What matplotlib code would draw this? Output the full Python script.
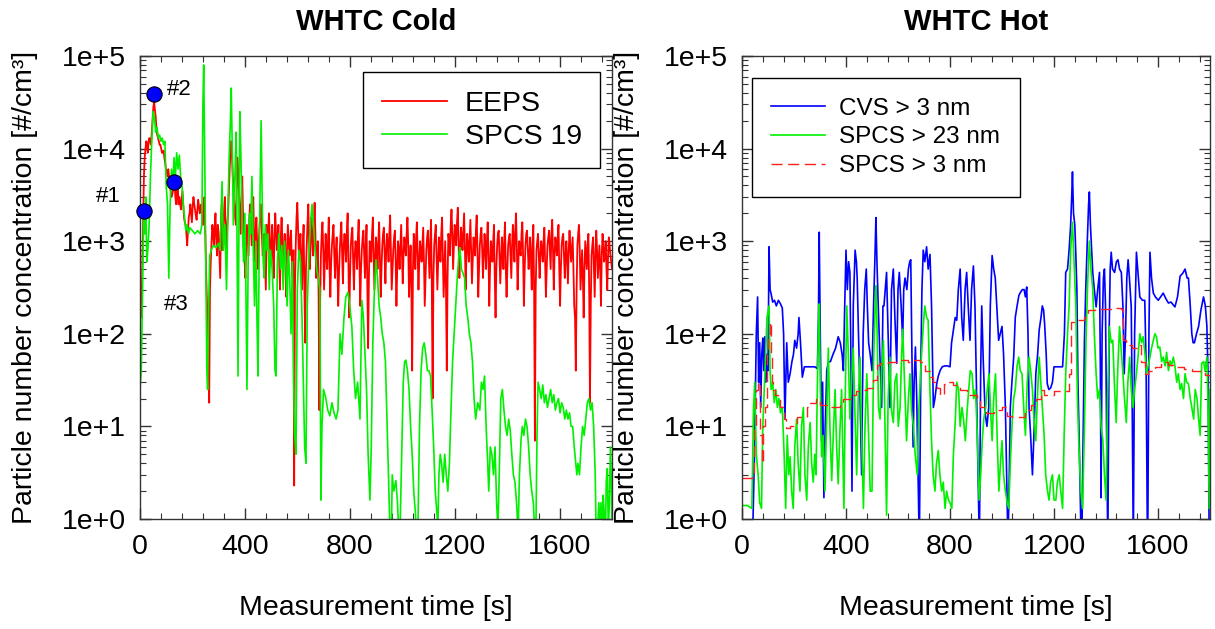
import matplotlib
matplotlib.use('Agg')
import matplotlib.pyplot as plt
import matplotlib.ticker as mticker
import numpy as np

plt.rcParams['font.family'] = ['Liberation Sans', 'DejaVu Sans']

# ---- WHTC Cold: EEPS, one value every 6 s from 0 to 1800 s ----
eeps_cold = [
    400, 150, 1500, 8000, 12000, 9000, 13000, 11000, 20000, 32000,
    22000, 14000, 12000, 11000, 9000, 9500, 7000, 5500, 6000, 4500,
    3000, 3500, 4200, 2500, 4000, 3000, 2200, 3500, 1800, 1500,
    900, 1800, 2500, 1600, 3000, 2200, 1700, 2800, 2000, 2500,
    1500, 3000, 500, 120, 18, 600, 1500, 900, 2000, 700,
    1200, 400, 2500, 1500, 3000, 800, 2000, 6000, 12000, 5000,
    2500, 1500, 8000, 3000, 1200, 5000, 1000, 400, 1500, 700,
    2500, 900, 3000, 600, 1800, 500, 1400, 2500, 700, 1200,
    300, 900, 2000, 600, 1500, 400, 2000, 800, 1500, 300,
    1800, 600, 1200, 250, 1500, 700, 1300, 400, 2.3, 900,
    2600, 700, 1200, 300, 1500, 80, 900, 2500, 500, 1800,
    700, 2600, 400, 1000, 15, 700, 1600, 300, 1200, 500,
    1800, 250, 900, 1500, 400, 1100, 200, 800, 1600, 350,
    1200, 600, 2000, 150, 900, 1400, 300, 1000, 500, 1700,
    200, 800, 1300, 400, 1500, 70, 1000, 600, 1800, 300,
    1100, 500, 1600, 250, 900, 1400, 350, 1200, 600, 1900,
    300, 800, 1300, 200, 1000, 500, 1500, 350, 1100, 700,
    1800, 250, 900, 40, 1200, 500, 1600, 300, 1000, 600,
    1400, 200, 800, 1300, 400, 1700, 20, 900, 1500, 300,
    1100, 600, 1800, 250, 1000, 40, 1200, 700, 2200, 500,
    1500, 900, 2300, 400, 1400, 800, 2000, 300, 1200, 600,
    1700, 350, 1100, 700, 1900, 250, 900, 1400, 400, 1200,
    500, 1600, 200, 1000, 600, 1500, 150, 900, 1300, 350,
    1100, 500, 1600, 250, 900, 1200, 400, 1500, 600, 2000,
    300, 1000, 700, 1600, 200, 900, 1300, 500, 1100, 300,
    1500, 7, 800, 1200, 400, 1000, 600, 1400, 250, 900,
    1300, 500, 1700, 300, 1100, 700, 1500, 200, 900, 1200,
    400, 1000, 350, 1300, 600, 1100, 200, 40, 900, 1500,
    300, 800, 150, 1000, 500, 1200, 18, 700, 1100, 250,
    1300, 400, 900, 200, 1200, 600, 1000, 300, 1100, 700,
    500,
]

# EEPS values in between, at 3 s, 9 s, ... 1797 s
eeps_cold_mid = [
    250, 600, 5000, 10000, 11000, 12000, 12000, 15000, 28000, 26000,
    16000, 13000, 11000, 10000, 9000, 8000, 6000, 5000, 5000, 3500,
    3200, 4000, 3000, 3500, 2500, 2600, 2800, 2500, 1600, 1200,
    1300, 2000, 2000, 2400, 2500, 1900, 2200, 2400, 2200, 2000,
    2000, 1200, 250, 40, 300, 1000, 1200, 1500, 1000, 1500,
    700, 1800, 800, 2200, 1200, 1500, 3500, 9000, 8000, 3500,
    1800, 4000, 5000, 2000, 3000, 2000, 600, 900, 1000, 1800,
    1500, 1800, 1200, 1200, 900, 1000, 2000, 1200, 900, 600,
    1500, 1200, 1000, 900, 700, 1200, 1200, 900, 600, 1100,
    1000, 800, 500, 900, 1000, 1000, 600, 800, 300, 1800,
    1400, 900, 600, 900, 300, 500, 1600, 1000, 1200, 1000,
    1500, 1200, 600, 300, 200, 1200, 800, 600, 700, 1000,
    500, 600, 1200, 700, 800, 500, 450, 1200, 700, 900,
    900, 1300, 500, 400, 1200, 600, 700, 800, 1100, 600,
    500, 1100, 700, 900, 300, 400, 800, 1200, 700, 600,
    800, 1000, 600, 500, 1200, 700, 800, 900, 1200, 800,
    500, 1100, 600, 500, 800, 900, 700, 700, 900, 1200,
    900, 500, 300, 500, 800, 1100, 700, 600, 800, 900,
    600, 400, 1100, 700, 1000, 300, 400, 1200, 700, 600,
    900, 1200, 700, 500, 300, 400, 1000, 1500, 1200, 900,
    1200, 1600, 1000, 800, 1100, 1300, 900, 700, 900, 1000,
    800, 600, 900, 1300, 800, 500, 1200, 800, 700, 800,
    1000, 700, 500, 800, 1000, 400, 500, 1200, 700, 600,
    800, 1000, 500, 500, 1100, 700, 900, 1000, 1300, 900,
    600, 800, 1200, 700, 500, 1200, 800, 700, 600, 900,
    300, 300, 1000, 700, 700, 800, 1000, 600, 500, 1100,
    800, 1200, 800, 700, 900, 1100, 500, 500, 1100, 700,
    700, 600, 800, 900, 800, 500, 150, 300, 1200, 800,
    500, 400, 500, 700, 900, 300, 200, 900, 500, 700,
    800, 600, 500, 700, 900, 700, 500, 700, 900, 600,
]

# ---- WHTC Cold: SPCS 19, (time s, #/cm3) ----
spcs19_cold = [
    (0, 25), (5, 40), (10, 300), (14, 2000), (18, 1200), (22, 3000), (26, 600),
    (30, 800), (35, 1500), (40, 5000), (45, 12000), (50, 25000), (55, 22000),
    (60, 15000), (65, 17000), (70, 13000), (75, 14000), (80, 12000), (85, 13000),
    (90, 11000), (95, 12000), (100, 4000), (105, 2500), (110, 400), (115, 2500),
    (120, 6000), (125, 4000), (130, 8000), (135, 5000), (140, 9000), (145, 6000),
    (150, 8500), (155, 5000), (160, 4000), (165, 2500), (170, 1800), (175, 1300),
    (180, 1500), (185, 1200), (190, 1400), (200, 1300), (210, 1200), (220, 1300),
    (230, 1200), (236, 1500), (240, 30000), (243, 80000), (247, 8000), (251, 600),
    (255, 40), (258, 25), (262, 200), (266, 700), (272, 800), (280, 900),
    (290, 850), (300, 950), (306, 800), (313, 4400), (318, 800), (324, 1500),
    (330, 300), (336, 2500), (340, 8000), (345, 20000), (348, 45000), (352, 10000),
    (356, 1500), (362, 5000), (367, 15000), (371, 400), (374, 35), (378, 3000),
    (381, 25000), (385, 8000), (390, 1500), (395, 600), (400, 2000), (404, 300),
    (408, 25), (413, 800), (418, 2000), (422, 1200), (427, 5000), (432, 800),
    (437, 200), (442, 1000), (446, 150), (450, 35), (455, 900), (459, 5000),
    (462, 20000), (466, 3000), (470, 600), (474, 400), (478, 1500), (483, 800),
    (488, 1200), (493, 300), (498, 800), (504, 500), (510, 200), (515, 40),
    (519, 35), (524, 600), (530, 1200), (536, 500), (541, 900), (546, 300),
    (551, 1000), (556, 600), (561, 200), (566, 800), (571, 400), (576, 100),
    (581, 600), (586, 30), (590, 8), (595, 5), (600, 300), (606, 800),
    (612, 600), (618, 150), (623, 30), (628, 6), (633, 4), (638, 200),
    (644, 700), (650, 1500), (656, 2500), (662, 1500), (668, 800), (674, 500),
    (680, 400), (686, 300), (690, 1.6), (694, 10), (700, 25), (709, 20),
    (716, 15), (724, 13), (732, 18), (740, 14), (748, 12), (755, 15),
    (763, 100), (770, 60), (778, 150), (785, 250), (793, 280), (800, 200),
    (808, 120), (815, 40), (822, 20), (830, 30), (839, 12), (846, 230),
    (852, 150), (858, 60), (864, 25), (870, 5), (877, 1.6), (882, 6),
    (888, 80), (894, 300), (900, 630), (906, 400), (912, 200), (918, 150),
    (924, 100), (930, 80), (936, 50), (942, 12), (948, 3), (953, 0.8),
    (958, 0.5), (962, 3), (968, 2), (976, 2.6), (982, 1.5), (988, 0.6),
    (992, 0.8), (998, 5), (1004, 30), (1009, 50), (1014, 52), (1020, 40),
    (1026, 25), (1032, 10), (1038, 5), (1044, 2), (1050, 1.2), (1055, 0.6),
    (1060, 0.8), (1066, 10), (1072, 40), (1078, 70), (1084, 80), (1090, 60),
    (1096, 40), (1102, 40), (1108, 35), (1114, 15), (1120, 6), (1126, 2),
    (1132, 1.2), (1136, 0.8), (1140, 3), (1145, 5), (1150, 4), (1156, 2.5),
    (1162, 5), (1168, 3), (1174, 2), (1180, 4), (1186, 15), (1192, 50),
    (1198, 100), (1204, 200), (1210, 400), (1216, 700), (1220, 850), (1226, 500),
    (1232, 450), (1238, 400), (1244, 200), (1250, 150), (1256, 100), (1262, 80),
    (1268, 50), (1274, 20), (1280, 12), (1288, 18), (1296, 15), (1302, 30),
    (1308, 25), (1314, 35), (1320, 10), (1326, 4), (1330, 2), (1336, 6),
    (1342, 5), (1348, 3), (1354, 6), (1360, 1.5), (1365, 0.8), (1370, 3),
    (1376, 20), (1382, 25), (1388, 15), (1394, 10), (1400, 8), (1406, 12),
    (1412, 9), (1418, 5), (1424, 3), (1430, 2.5), (1436, 1.5), (1442, 0.7),
    (1447, 3), (1453, 7), (1458, 10), (1464, 8), (1470, 12), (1476, 10),
    (1482, 6), (1488, 3), (1494, 2), (1500, 1.5), (1506, 0.7), (1510, 0.8),
    (1514, 8), (1518, 30), (1524, 25), (1530, 20), (1536, 28), (1542, 18),
    (1548, 22), (1554, 16), (1560, 20), (1566, 25), (1572, 18), (1578, 22),
    (1584, 15), (1590, 18), (1596, 20), (1602, 14), (1608, 18), (1614, 16),
    (1620, 12), (1626, 15), (1632, 12), (1638, 14), (1644, 10), (1650, 10),
    (1656, 6), (1662, 4), (1666, 3), (1670, 4), (1676, 3), (1682, 6),
    (1688, 10), (1694, 8), (1700, 12), (1706, 18), (1712, 20), (1718, 15),
    (1724, 18), (1730, 10), (1736, 3), (1740, 0.6), (1745, 0.8), (1750, 1.5),
    (1754, 0.7), (1758, 1.5), (1762, 0.5), (1766, 1.8), (1770, 1.2), (1774, 0.4),
    (1778, 2.5), (1782, 3.5), (1786, 0.8), (1790, 1.5), (1794, 6), (1798, 2),
    (1800, 0.8),
]

# marked points #1, #2, #3 (time s, #/cm3)
marked_t = [15, 53, 130]
marked_v = [2100, 39000, 4400]
marked_labels = ['#1', '#2', '#3']
label_t = [-122, 149, 137]
label_v = [3070, 43000, 205]

# ---- WHTC Hot: CVS > 3 nm ----
cvs_hot = [
    (0, 0.3), (40, 0.5), (48, 5), (55, 100), (60, 250), (64, 30), (68, 80),
    (72, 16), (76, 60), (80, 90), (84, 40), (88, 93), (92, 30), (96, 60),
    (100, 40), (104, 870), (108, 300), (112, 270), (118, 220), (125, 230),
    (132, 200), (140, 230), (148, 210), (155, 190), (160, 100), (165, 12),
    (172, 80), (178, 30), (185, 37), (192, 50), (198, 60), (203, 85),
    (210, 70), (216, 100), (219, 150), (225, 80), (232, 34), (240, 44),
    (260, 44), (280, 44), (290, 42), (294, 150), (297, 1250), (301, 100),
    (306, 7), (310, 30), (315, 1.7), (320, 10), (326, 40), (332, 50),
    (340, 50), (350, 60), (360, 70), (370, 93), (378, 80), (385, 60),
    (390, 40), (395, 200), (400, 800), (405, 300), (410, 600), (415, 460),
    (419, 50), (423, 2), (428, 200), (435, 800), (440, 600), (443, 400),
    (448, 100), (453, 30), (460, 3), (466, 100), (472, 300), (478, 500),
    (482, 200), (487, 80), (493, 60), (500, 40), (506, 200), (512, 800),
    (515, 1800), (519, 600), (524, 200), (530, 60), (537, 16), (542, 200),
    (546, 200), (551, 300), (556, 460), (562, 100), (569, 16), (575, 300),
    (582, 500), (588, 150), (595, 48), (600, 300), (605, 460), (612, 200),
    (618, 85), (622, 300), (627, 400), (634, 300), (640, 500), (645, 600),
    (649, 630), (654, 50), (658, 6), (662, 30), (667, 72), (672, 20),
    (678, 2), (682, 0.5), (688, 50), (692, 300), (697, 800), (703, 600),
    (710, 870), (716, 500), (723, 720), (729, 200), (736, 16), (742, 20),
    (749, 29), (755, 35), (762, 40), (770, 44), (780, 45), (790, 45),
    (800, 44), (806, 80), (813, 110), (820, 150), (826, 140), (832, 300),
    (839, 500), (845, 150), (851, 85), (858, 300), (864, 460), (870, 200),
    (877, 85), (883, 300), (890, 540), (896, 200), (903, 16), (908, 3),
    (913, 0.5), (918, 40), (922, 200), (928, 50), (935, 14), (942, 10),
    (949, 16), (955, 200), (962, 700), (968, 500), (974, 400), (980, 200),
    (987, 85), (993, 100), (1000, 120), (1006, 60), (1013, 16), (1018, 3),
    (1023, 0.5), (1028, 3), (1032, 16), (1038, 30), (1045, 56), (1051, 150),
    (1058, 200), (1065, 260), (1071, 280), (1078, 300), (1085, 300), (1090, 250),
    (1095, 320), (1100, 100), (1104, 16), (1110, 8), (1117, 3), (1124, 10),
    (1130, 37), (1137, 60), (1143, 110), (1150, 150), (1155, 200), (1160, 180),
    (1164, 126), (1170, 60), (1174, 29), (1180, 25), (1187, 26), (1194, 30),
    (1200, 44), (1210, 44), (1220, 44), (1233, 44), (1240, 100), (1245, 460),
    (1252, 500), (1258, 800), (1264, 1500), (1268, 3000), (1271, 5600), (1275, 2000),
    (1280, 1500), (1284, 700), (1288, 300), (1292, 30), (1297, 7), (1302, 1.2),
    (1306, 0.3), (1310, 3), (1317, 85), (1322, 300), (1328, 1000), (1333, 2500),
    (1336, 3400), (1340, 1500), (1345, 800), (1349, 460), (1355, 300), (1362, 195),
    (1368, 300), (1375, 460), (1378, 50), (1381, 1.7), (1385, 100), (1390, 400),
    (1394, 500), (1398, 200), (1402, 10), (1407, 0.5), (1412, 100), (1416, 500),
    (1420, 760), (1425, 500), (1433, 460), (1440, 600), (1446, 630), (1452, 500),
    (1459, 460), (1465, 200), (1470, 37), (1475, 100), (1480, 400), (1485, 630),
    (1490, 400), (1497, 195), (1500, 30), (1505, 0.5), (1510, 100), (1517, 760),
    (1522, 500), (1530, 250), (1540, 230), (1549, 230), (1554, 50), (1560, 0.3),
    (1565, 100), (1569, 760), (1575, 400), (1582, 275), (1590, 250), (1601, 230),
    (1610, 250), (1620, 275), (1630, 240), (1640, 215), (1650, 220), (1665, 195),
    (1675, 250), (1685, 420), (1695, 450), (1704, 500), (1712, 400), (1717, 400),
    (1724, 200), (1730, 100), (1735, 80), (1740, 80), (1748, 100), (1756, 120),
    (1765, 180), (1775, 250), (1782, 200), (1788, 120), (1793, 30), (1797, 0.4),
    (1800, 0.4),
]

# ---- WHTC Hot: SPCS > 23 nm ----
spcs23_hot = [
    (0, 1.4), (20, 1.4), (38, 1.3), (44, 15), (49, 30), (55, 5), (62, 3),
    (68, 1.5), (75, 1.3), (80, 10), (88, 37), (96, 150), (104, 200), (108, 40),
    (112, 25), (118, 30), (124, 18), (130, 25), (136, 16), (142, 20), (148, 14),
    (155, 16), (162, 5), (168, 1.3), (174, 8), (180, 3), (185, 4.7), (191, 2),
    (197, 1.3), (203, 6), (210, 12), (216, 4), (223, 2), (229, 10), (236, 16),
    (242, 3), (249, 1.6), (255, 6), (262, 11), (268, 4), (274, 2.5), (280, 5),
    (285, 3), (290, 30), (294, 120), (297, 210), (301, 30), (306, 4.7), (312, 8),
    (319, 2), (325, 10), (332, 70), (338, 10), (345, 2.6), (351, 8), (358, 25),
    (364, 6), (370, 2.4), (376, 8), (383, 25), (388, 5), (392, 1.3), (397, 20),
    (403, 200), (409, 60), (415, 12), (421, 30), (428, 70), (434, 15), (441, 3),
    (447, 20), (454, 56), (460, 8), (467, 1.3), (473, 10), (480, 37), (487, 8),
    (493, 2), (500, 2), (506, 50), (512, 200), (515, 330), (520, 100), (525, 16),
    (531, 12), (537, 40), (544, 85), (550, 10), (556, 1.1), (562, 20), (569, 56),
    (575, 15), (582, 11), (588, 30), (595, 37), (601, 10), (608, 16), (614, 60),
    (618, 112), (625, 30), (633, 7), (640, 20), (646, 37), (652, 15), (659, 10),
    (666, 5), (674, 3), (680, 15), (685, 30), (690, 56), (697, 120), (703, 200),
    (710, 150), (716, 140), (722, 30), (729, 7), (735, 3), (742, 2), (748, 4),
    (755, 5.5), (761, 3), (768, 2), (774, 2.5), (781, 1.3), (787, 2), (794, 1.6),
    (800, 1.5), (807, 1.3), (813, 5), (820, 11), (826, 30), (833, 25), (839, 10),
    (846, 16), (852, 12), (859, 7), (866, 15), (872, 25), (878, 40), (885, 37),
    (891, 20), (898, 25), (905, 8), (912, 1.6), (918, 3), (924, 7), (930, 12),
    (937, 16), (943, 25), (950, 37), (956, 15), (962, 7), (968, 20), (975, 37),
    (981, 8), (988, 2), (994, 4), (1000, 7), (1006, 3), (1013, 2), (1020, 1.5),
    (1026, 1.3), (1032, 4), (1039, 11), (1045, 20), (1051, 25), (1058, 45),
    (1064, 56), (1070, 40), (1077, 37), (1084, 15), (1090, 8), (1097, 30),
    (1104, 56), (1110, 40), (1117, 25), (1123, 12), (1130, 7), (1136, 20),
    (1143, 56), (1149, 30), (1155, 16), (1162, 8), (1168, 3), (1175, 2),
    (1181, 1.6), (1187, 2.5), (1194, 3), (1200, 1.6), (1207, 1.6), (1213, 2.5),
    (1220, 3), (1226, 2), (1233, 1.3), (1239, 8), (1245, 37), (1252, 100),
    (1258, 200), (1264, 800), (1271, 1600), (1277, 600), (1284, 200), (1290, 20),
    (1297, 4.7), (1303, 2), (1310, 1.3), (1317, 10), (1323, 85), (1330, 400),
    (1336, 1000), (1342, 500), (1349, 300), (1355, 100), (1362, 37), (1368, 20),
    (1375, 25), (1381, 10), (1388, 7), (1394, 3), (1400, 1.6), (1406, 20),
    (1413, 120), (1420, 80), (1426, 85), (1432, 30), (1439, 11), (1445, 40),
    (1452, 120), (1458, 70), (1465, 37), (1471, 20), (1478, 11), (1484, 30),
    (1491, 56), (1497, 25), (1504, 16), (1510, 25), (1517, 37), (1524, 60),
    (1530, 100), (1537, 80), (1543, 93), (1550, 60), (1556, 37), (1562, 45),
    (1569, 56), (1575, 70), (1582, 85), (1588, 100), (1594, 93), (1600, 70),
    (1607, 72), (1614, 50), (1620, 56), (1627, 45), (1633, 63), (1640, 40),
    (1646, 51), (1652, 45), (1659, 56), (1665, 45), (1672, 30), (1678, 37),
    (1685, 25), (1691, 29), (1698, 20), (1704, 37), (1710, 30), (1717, 29),
    (1724, 20), (1730, 16), (1737, 12), (1743, 25), (1750, 20), (1756, 12),
    (1762, 8), (1768, 48), (1775, 50), (1781, 40), (1788, 56), (1792, 20),
    (1797, 1.3), (1800, 25),
]

# ---- WHTC Hot: SPCS > 3 nm ----
spcs3_hot = [
    (0, 2.8), (30, 2.8), (38, 3), (45, 10), (55, 25), (62, 30), (68, 8), (75, 4),
    (82, 10), (88, 16), (95, 60), (100, 100), (106, 135), (110, 60), (115, 30),
    (119, 25), (125, 22), (132, 22), (140, 20), (148, 16), (155, 16), (162, 12),
    (168, 9.6), (185, 10), (200, 10.5), (210, 12.5), (236, 12.5), (249, 16),
    (262, 18), (285, 20), (300, 17), (326, 16), (350, 16), (378, 17), (390, 20),
    (405, 20), (415, 22), (440, 24), (460, 25), (480, 26), (495, 26), (505, 32),
    (518, 46), (531, 48), (560, 50), (600, 52), (640, 50), (660, 52), (685, 50),
    (703, 40), (723, 34), (735, 30), (749, 26), (760, 22), (775, 29), (790, 30),
    (813, 28), (839, 25), (864, 22), (890, 22), (903, 20), (915, 16), (940, 14),
    (970, 15), (1000, 16), (1013, 16), (1020, 13), (1039, 12.5), (1071, 12.5),
    (1090, 15), (1110, 17), (1130, 20), (1149, 25), (1160, 22), (1175, 22),
    (1200, 24), (1220, 24), (1240, 24), (1258, 37), (1264, 135), (1277, 140),
    (1303, 140), (1315, 150), (1330, 180), (1356, 185), (1400, 185), (1440, 190),
    (1459, 185), (1465, 85), (1475, 75), (1485, 75), (1500, 70), (1523, 75),
    (1535, 50), (1549, 37), (1560, 40), (1588, 44), (1610, 47), (1627, 50),
    (1640, 46), (1665, 44), (1700, 42), (1730, 40), (1760, 38), (1780, 36),
    (1800, 32),
]


def unzip(pairs):
    t, v = zip(*pairs)
    return np.array(t), np.array(v)


def style_axes(ax, title):
    ax.set_yscale('log')
    ax.set_xlim(0, 1800)
    ax.set_ylim(1, 1e5)
    ax.xaxis.set_major_locator(mticker.MultipleLocator(400))
    ax.xaxis.set_minor_locator(mticker.MultipleLocator(80))
    ax.yaxis.set_major_locator(mticker.LogLocator(base=10, numticks=10))
    ax.yaxis.set_minor_locator(mticker.LogLocator(base=10, subs=np.arange(2, 10), numticks=10))
    ax.yaxis.set_major_formatter(mticker.FuncFormatter(
        lambda v, p: '1e+%d' % int(round(np.log10(v)))))
    ax.yaxis.set_minor_formatter(mticker.NullFormatter())
    ax.tick_params(which='both', direction='in', top=True, right=True,
                   colors='#333333', labelcolor='black', labelsize=20.5)
    ax.tick_params(which='major', length=8, width=1)
    ax.tick_params(which='minor', length=4, width=0.8)
    ax.tick_params(axis='x', pad=11)
    ax.tick_params(axis='y', pad=10)
    for s in ax.spines.values():
        s.set_color('#333333')
        s.set_linewidth(1)
    ax.set_xlabel('Measurement time [s]', fontsize=20.5, labelpad=25)
    ax.set_ylabel('Particle number concentration [#/cm³]', fontsize=20.5, labelpad=17)
    ax.set_title(title, fontsize=21, fontweight='bold', pad=19)


fig = plt.figure(figsize=(12.15, 6.29), dpi=100)
ax1 = fig.add_axes([0.1152, 0.1749, 0.3885, 0.7361])
ax2 = fig.add_axes([0.6107, 0.1749, 0.3852, 0.7361])

# left: WHTC Cold
t_main = np.linspace(0, 1800, len(eeps_cold))
t_mid = np.linspace(3, 1797, len(eeps_cold_mid))
t_eeps = np.concatenate([t_main, t_mid])
v_eeps = np.concatenate([eeps_cold, eeps_cold_mid])
order = np.argsort(t_eeps)
ax1.plot(t_eeps[order], v_eeps[order], color='#ff0000', lw=1.3, label='EEPS')
t19, v19 = unzip(spcs19_cold)
ax1.plot(t19, v19, color='#00f000', lw=1.2, label='SPCS 19')
ax1.plot(marked_t, marked_v, 'o', color='#0000ff', mec='black', mew=0.8,
         ms=11, clip_on=False, zorder=5)
for lab, lt, lv in zip(marked_labels, label_t, label_v):
    ax1.text(lt, lv, lab, fontsize=16, ha='center', va='center', clip_on=False)
style_axes(ax1, 'WHTC Cold')
leg1 = ax1.legend(loc='upper right', bbox_to_anchor=(0.975, 0.965), fontsize=20.5,
                  fancybox=False, framealpha=1, edgecolor='black', borderpad=0.65,
                  borderaxespad=0, handlelength=2.3, handletextpad=0.6,
                  labelspacing=0.25)
leg1.get_frame().set_linewidth(1)

# right: WHTC Hot
tc, vc = unzip(cvs_hot)
ax2.plot(tc, vc, color='#0000ff', lw=1.2, label='CVS > 3 nm')
tg, vg = unzip(spcs23_hot)
ax2.plot(tg, vg, color='#00f000', lw=1.2, label='SPCS > 23 nm')
tr, vr = unzip(spcs3_hot)
ax2.plot(tr, vr, color='#ff2020', lw=1.0, ls=(0, (8, 4)), drawstyle='steps-post',
         label='SPCS > 3 nm')
style_axes(ax2, 'WHTC Hot')
leg2 = ax2.legend(loc='upper left', bbox_to_anchor=(0.021, 0.952), fontsize=17.5,
                  fancybox=False, framealpha=1, edgecolor='black', borderpad=0.8,
                  borderaxespad=0, handlelength=2.2, handletextpad=0.6,
                  labelspacing=0.28)
leg2.get_frame().set_linewidth(1)

fig.savefig('out.png', dpi=100)
